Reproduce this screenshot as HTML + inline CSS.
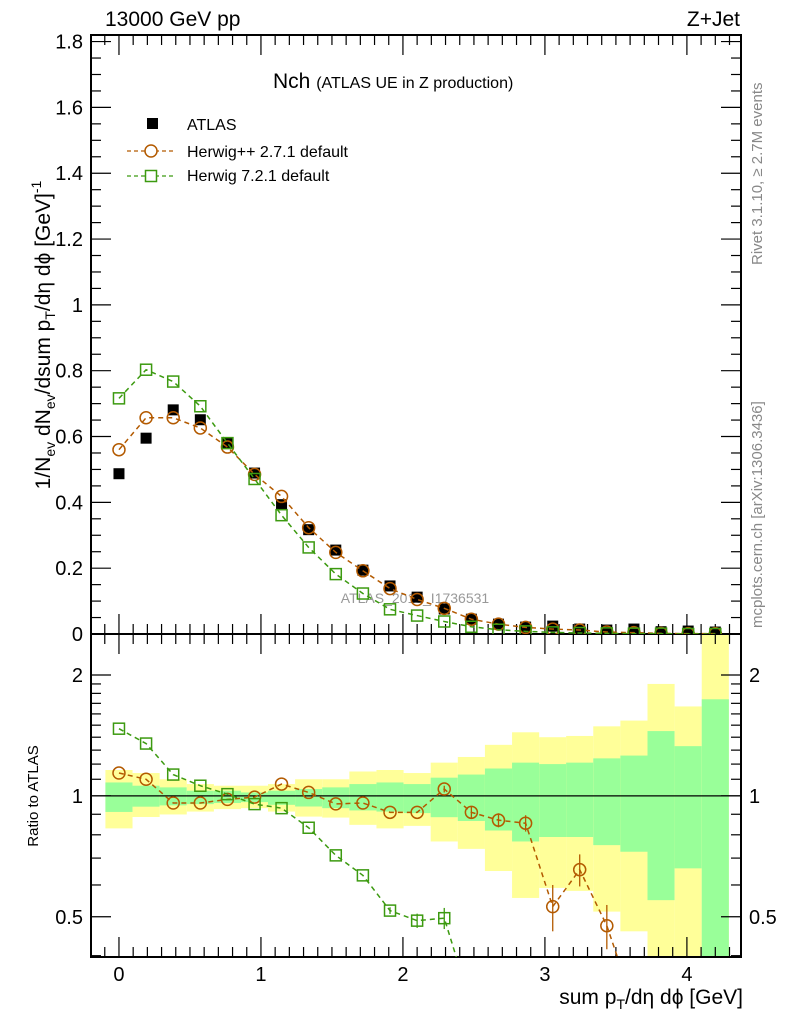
<!DOCTYPE html>
<html><head><meta charset="utf-8">
<style>
html,body{margin:0;padding:0;background:#fff;}
svg{display:block;font-family:"Liberation Sans",sans-serif;}
</style></head>
<body>
<svg id="chart" width="786" height="1024" viewBox="0 0 786 1024" xmlns="http://www.w3.org/2000/svg">
<text x="105" y="26" font-size="21">13000 GeV pp</text>
<text x="740" y="26" font-size="21" text-anchor="end">Z+Jet</text>
<text x="273" y="88" font-size="21">Nch <tspan font-size="16">(ATLAS UE in Z production)</tspan></text>
<text x="415" y="603" font-size="14" fill="#999" text-anchor="middle">ATLAS_2019_I1736531</text>
<text transform="translate(762,265) rotate(-90)" font-size="15" fill="#888">Rivet 3.1.10, ≥ 2.7M events</text>
<text transform="translate(762,628) rotate(-90)" font-size="15" fill="#888">mcplots.cern.ch [arXiv:1306.3436]</text>
<text transform="translate(50,335) rotate(-90)" font-size="21" text-anchor="middle">1/N<tspan font-size="14" dy="5">ev</tspan><tspan dy="-5"> dN</tspan><tspan font-size="14" dy="5">ev</tspan><tspan dy="-5">/dsum p</tspan><tspan font-size="14" dy="5">T</tspan><tspan dy="-5">/dη dϕ  [GeV]</tspan><tspan font-size="14" dy="-9">-1</tspan></text>
<text transform="translate(38,796) rotate(-90)" font-size="15" text-anchor="middle">Ratio to ATLAS</text>
<text x="743" y="1004" font-size="21" text-anchor="end">sum p<tspan font-size="14" dy="5">T</tspan><tspan dy="-5">/dη dϕ [GeV]</tspan></text>
<g id="legend">
<rect x="147" y="118" width="11" height="11" fill="#000"/>
<text x="187" y="130" font-size="16">ATLAS</text>
<line x1="127" y1="151" x2="175" y2="151" stroke="#b35a00" stroke-dasharray="4,3" stroke-width="1.3"/>
<circle cx="151" cy="151" r="6" fill="#fff" stroke="#b35a00" stroke-width="1.5"/>
<text x="187" y="157" font-size="16">Herwig++ 2.7.1 default</text>
<line x1="127" y1="176" x2="175" y2="176" stroke="#3c9a10" stroke-dasharray="4,3" stroke-width="1.3"/>
<rect x="145.5" y="170.5" width="11" height="11" fill="#fff" stroke="#3c9a10" stroke-width="1.5"/>
<text x="187" y="181" font-size="16">Herwig 7.2.1 default</text>
</g>
</svg>
<script>
const binCenters=[0,0.191,0.382,0.573,0.764,0.955,1.145,1.336,1.527,1.718,1.909,2.1,2.291,2.482,2.673,2.864,3.055,3.245,3.436,3.627,3.818,4.009,4.2];
const binWidth=0.191;
const atlasVals=[0.487,0.595,0.681,0.651,0.580,0.489,0.393,0.317,0.255,0.194,0.146,0.112,0.076,0.045,0.030,0.021,0.024,0.015,0.012,0.015,0.007,0.009,0.006];
const hppVals=[0.560,0.657,0.657,0.626,0.568,0.485,0.418,0.323,0.248,0.192,0.138,0.105,0.078,0.045,0.030,0.020,0.015,0.012,0.006,0.004,0.002,0.001,0.001];
const h7Vals=[0.716,0.803,0.767,0.692,0.580,0.471,0.361,0.263,0.182,0.123,0.075,0.056,0.038,0.022,0.013,0.008,0.005,0.003,0.002,0.001,0.001,0.0,0.0];
const hppRatio=[1.14,1.10,0.96,0.96,0.98,0.993,1.07,1.02,0.955,0.96,0.91,0.91,1.04,0.91,0.87,0.855,0.53,0.655,0.475,0.30,0.2,0.2,0.2];
const hppRatioErr=[0,0,0,0,0,0,0,0,0,0,0,0,0.02,0.03,0.035,0.04,0.07,0.06,0.06,0,0,0,0];
const h7Ratio=[1.47,1.35,1.13,1.06,1.01,0.954,0.932,0.833,0.711,0.634,0.518,0.489,0.496,0.3,0.2,0.2,0.2,0.2,0.2,0.2,0.2,0.2,0.2];
const h7RatioErr=[0,0,0,0,0,0,0,0,0,0,0.01,0.02,0.03,0,0,0,0,0,0,0,0,0,0];
const bandYellowUp=[1.16,1.14,1.10,1.07,1.06,1.06,1.07,1.10,1.10,1.15,1.16,1.14,1.21,1.25,1.34,1.44,1.40,1.41,1.49,1.54,1.90,1.67,3.0];
const bandGreenUp=[1.08,1.06,1.05,1.03,1.03,1.02,1.03,1.04,1.05,1.07,1.08,1.07,1.11,1.13,1.17,1.21,1.20,1.21,1.24,1.26,1.45,1.33,1.74];
const bandGreenDn=[0.912,0.94,0.947,0.954,0.96,0.965,0.95,0.941,0.932,0.92,0.914,0.906,0.885,0.866,0.82,0.77,0.79,0.79,0.754,0.726,0.55,0.66,0.3];
const bandYellowDn=[0.83,0.886,0.899,0.914,0.927,0.932,0.914,0.888,0.883,0.847,0.83,0.842,0.77,0.738,0.65,0.557,0.59,0.58,0.515,0.46,0.3,0.3,0.3];
const mainTicks=[0,0.2,0.4,0.6,0.8,1,1.2,1.4,1.6,1.8];
const mainTickLabels=["0","0.2","0.4","0.6","0.8","1","1.2","1.4","1.6","1.8"];
const ratioTicks=[0.5,1,2];
const ratioTickLabels=["0.5","1","2"];
const xTicks=[0,1,2,3,4];
const xTickLabels=["0","1","2","3","4"];

const L=91,R=741,T=35,MB=634,RB=957;
const X0=-0.197,X1=4.381;
const YMAX=1.82;
const RMIN=0.397,RMAX=2.53;
const sx=v=>L+(v-X0)/(X1-X0)*(R-L);
const sy=v=>MB-(v/YMAX)*(MB-T);
const sr=v=>{const c=Math.min(Math.max(v,RMIN*0.7),RMAX*1.3);return RB-(Math.log(c)-Math.log(RMIN))/(Math.log(RMAX)-Math.log(RMIN))*(RB-MB);};
const NS="http://www.w3.org/2000/svg";
const svg=document.getElementById('chart');
function mk(tag,attrs,parent){const e=document.createElementNS(NS,tag);for(const k in attrs)e.setAttribute(k,attrs[k]);(parent||svg).appendChild(e);return e;}
const legend=document.getElementById('legend');

const defs=mk('defs',{});
const cpM=mk('clipPath',{id:'cm'},defs);mk('rect',{x:L,y:T,width:R-L,height:MB-T},cpM);
const cpR=mk('clipPath',{id:'cr'},defs);mk('rect',{x:L,y:MB,width:R-L,height:RB-MB},cpR);

const gBand=mk('g',{'clip-path':'url(#cr)'});


binCenters.forEach((c,i)=>{
  const x0=sx(c-binWidth/2),x1=sx(c+binWidth/2);
  const y=mk('rect',{x:x0,y:sr(bandYellowUp[i]),width:x1-x0,height:sr(bandYellowDn[i])-sr(bandYellowUp[i]),fill:'#ffff99'},gBand);
  
  
  const g=mk('rect',{x:x0,y:sr(bandGreenUp[i]),width:x1-x0,height:sr(bandGreenDn[i])-sr(bandGreenUp[i]),fill:'#99ff99'},gBand);
  
  
});
const unity=mk('line',{x1:L,x2:R,y1:sr(1),y2:sr(1),stroke:'#000','stroke-width':1.3});



const fr=mk('rect',{x:L,y:T,width:R-L,height:RB-T,fill:'none',stroke:'#000','stroke-width':2});


const sep=mk('line',{x1:L,x2:R,y1:MB,y2:MB,stroke:'#000','stroke-width':2});



const gT=mk('g',{stroke:'#000','stroke-width':1.2});


for(let v=0;v<=1.8001;v+=0.05){const maj=Math.abs(v/0.2-Math.round(v/0.2))<1e-6;const l=maj?20:10;
  mk('line',{x1:L,x2:L+l,y1:sy(v),y2:sy(v)},gT);mk('line',{x1:R,x2:R-l,y1:sy(v),y2:sy(v)},gT);}
for(let v=-0.1;v<=4.35;v+=0.1){const maj=Math.abs(v-Math.round(v))<1e-6;const l=maj?20:10;const x=sx(v);
  mk('line',{x1:x,x2:x,y1:MB,y2:MB-l},gT);mk('line',{x1:x,x2:x,y1:T,y2:T+l},gT);
  mk('line',{x1:x,x2:x,y1:RB,y2:RB-l},gT);mk('line',{x1:x,x2:x,y1:MB,y2:MB+l},gT);}
[0.4,0.5,0.6,0.7,0.8,0.9,1,2].forEach(v=>{const maj=ratioTicks.includes(v);const l=maj?20:10;const y=sr(v);
  mk('line',{x1:L,x2:L+l,y1:y,y2:y},gT);mk('line',{x1:R,x2:R-l,y1:y,y2:y},gT);});
for(let v=1.1;v<2;v+=0.1){const y=sr(v);mk('line',{x1:L,x2:L+10,y1:y,y2:y},gT);mk('line',{x1:R,x2:R-10,y1:y,y2:y},gT);}

mainTicks.forEach((v,i)=>{const t=mk('text',{x:L-8,y:sy(v)+7,'font-size':20,'text-anchor':'end'});t.textContent=mainTickLabels[i];
  
  });
ratioTicks.forEach((v,i)=>{
  const t=mk('text',{x:L-8,y:sr(v)+7,'font-size':20,'text-anchor':'end'});t.textContent=ratioTickLabels[i];
  
  
  const t2=mk('text',{x:R+8,y:sr(v)+7,'font-size':20});t2.textContent=ratioTickLabels[i];
  
  });
xTicks.forEach((v,i)=>{const t=mk('text',{x:sx(v),y:RB+24,'font-size':20,'text-anchor':'middle'});t.textContent=xTickLabels[i];
  
  });

function series(vals,fy,color,shape,clip,name,errs){
  const g=mk('g',{'clip-path':clip});
  
  
  if(color){mk('polyline',{points:vals.map((v,i)=>sx(binCenters[i])+','+fy(v)).join(' '),fill:'none',stroke:color,'stroke-width':1.5,'stroke-dasharray':'5,4'},g);}
  vals.forEach((v,i)=>{const x=sx(binCenters[i]),y=fy(v);
    if(errs&&errs[i]>0){mk('line',{x1:x,x2:x,y1:fy(v+errs[i]),y2:fy(v-errs[i]),stroke:color,'stroke-width':1.3},g);}
    let m;
    if(shape==='fill')m=mk('rect',{x:x-5.5,y:y-5.5,width:11,height:11,fill:'#000'},g);
    else if(shape==='circ')m=mk('circle',{cx:x,cy:y,r:6,fill:'none',stroke:color,'stroke-width':1.5},g);
    else m=mk('rect',{x:x-5.5,y:y-5.5,width:11,height:11,fill:'none',stroke:color,'stroke-width':1.5},g);
    
    
  });
}
series(atlasVals,sy,null,'fill','url(#cm)','atlas-data');
series(hppVals,sy,'#b35a00','circ','url(#cm)','herwigpp-main');
series(h7Vals,sy,'#3c9a10','sq','url(#cm)','herwig7-main');
series(hppRatio,sr,'#b35a00','circ','url(#cr)','herwigpp-ratio',hppRatioErr);
series(h7Ratio,sr,'#3c9a10','sq','url(#cr)','herwig7-ratio',h7RatioErr);
svg.appendChild(legend);
</script>
</body></html>
